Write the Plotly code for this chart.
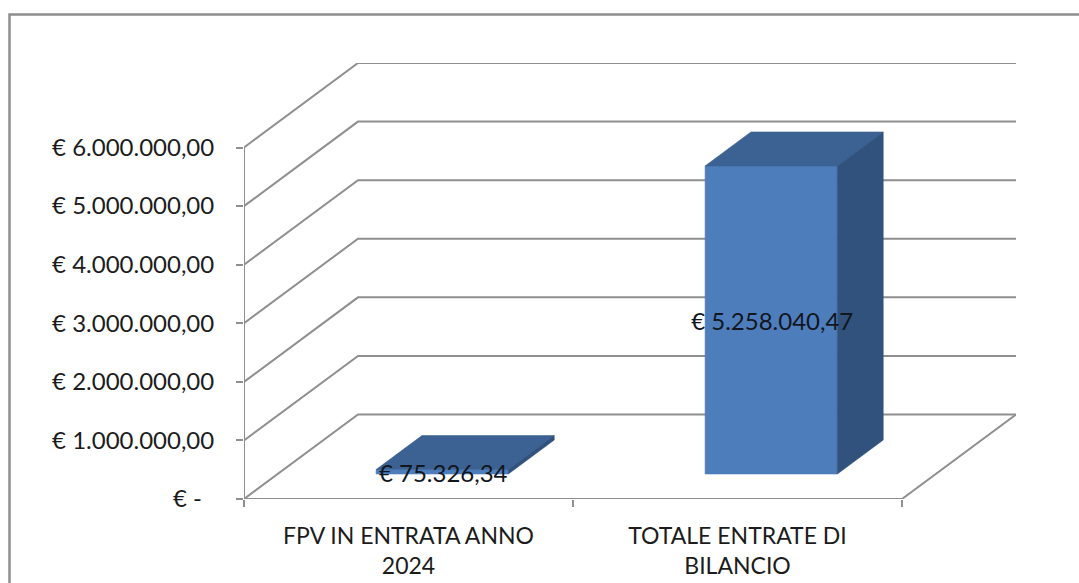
import plotly.graph_objects as go

# ---- data ----
categories = ["FPV IN ENTRATA ANNO<br>2024", "TOTALE ENTRATE DI<br>BILANCIO"]
values = [75326.34, 5258040.47]
value_labels = ["€ 75.326,34", "€ 5.258.040,47"]
y_ticks = [0, 1000000, 2000000, 3000000, 4000000, 5000000, 6000000]
y_tick_labels = ["€ -\u00a0\u00a0", "€ 1.000.000,00", "€ 2.000.000,00", "€ 3.000.000,00",
                 "€ 4.000.000,00", "€ 5.000.000,00", "€ 6.000.000,00"]

# ---- oblique projection of the 3D box onto the 2D axes ----
W, H = 1079, 583
LEFT, RIGHT_PX, FLOOR, TOP_PX = 244, 1016, 499, 63
UNIT_X = 329.0                        # px per category
UNIT_Y = (499 - 147.5) / 6000000      # px per euro
DEPTH_X = 114 / UNIT_X                # wall depth in category units
DEPTH_Y = 84.5 / UNIT_Y               # wall depth in euros
X_MAX = 2 + DEPTH_X
Y_MAX = 6000000 + DEPTH_Y
BAR_W = 0.402
BAR_D0, BAR_D1 = 0.296, 0.698
LABEL_NUDGE = -4 / UNIT_Y             # text baseline correction
GRID = "#8f8f8f"
INK = "#1c1c1c"
FRONT, TOP, SIDE = "#4d7ebb", "#3b6292", "#30527c"


def proj(x, v, d):
    return x + d * DEPTH_X, v + d * DEPTH_Y


def line(points, width=2, color=GRID):
    xs, ys = zip(*[proj(*p) for p in points])
    return go.Scatter(x=xs, y=ys, mode="lines", line=dict(color=color, width=width),
                      hoverinfo="skip", showlegend=False, cliponaxis=False)


def face(points, color):
    xs, ys = zip(*[proj(*p) for p in points])
    return go.Scatter(x=xs + xs[:1], y=ys + ys[:1], mode="lines", fill="toself",
                      fillcolor=color, line=dict(color=color, width=0.6),
                      hoverinfo="skip", showlegend=False, cliponaxis=False)


fig = go.Figure()

# walls and floor
for t in y_ticks:
    fig.add_trace(line([(0, t, 0), (0, t, 1), (2, t, 1)]))
fig.add_trace(line([(0, 0, 0), (0, 6000000, 0)]))
fig.add_trace(line([(0, 0, 0), (2, 0, 0), (2, 0, 1)]))

# bars
for i, v in enumerate(values):
    x0, x1 = i + 0.5 - BAR_W / 2, i + 0.5 + BAR_W / 2
    fig.add_trace(face([(x0, 0, BAR_D0), (x1, 0, BAR_D0), (x1, v, BAR_D0), (x0, v, BAR_D0)], FRONT))
    fig.add_trace(face([(x0, v, BAR_D0), (x1, v, BAR_D0), (x1, v, BAR_D1), (x0, v, BAR_D1)], TOP))
    fig.add_trace(face([(x1, 0, BAR_D0), (x1, 0, BAR_D1), (x1, v, BAR_D1), (x1, v, BAR_D0)], SIDE))

# data labels
lx, ly = zip(*[proj(i + 0.503, v / 2 + LABEL_NUDGE, BAR_D0) for i, v in enumerate(values)])
fig.add_trace(go.Scatter(x=lx, y=ly, mode="text", text=value_labels, textposition="middle center",
                         textfont=dict(family="Lato", size=24, color="#12161e"),
                         hoverinfo="skip", showlegend=False, cliponaxis=False))

fig.update_layout(
    width=W, height=H, autosize=False,
    paper_bgcolor="white", plot_bgcolor="white", showlegend=False,
    margin=dict(l=LEFT, r=W - RIGHT_PX, t=TOP_PX, b=H - FLOOR, pad=0),
    font=dict(family="Lato", size=24, color=INK),
    shapes=[dict(type="rect", xref="paper", yref="paper", layer="below",
                 x0=(9.5 - LEFT) / (RIGHT_PX - LEFT), x1=(1100 - LEFT) / (RIGHT_PX - LEFT),
                 y0=(FLOOR - 620) / (FLOOR - TOP_PX), y1=(FLOOR - 14.5) / (FLOOR - TOP_PX),
                 line=dict(color=GRID, width=2.5), fillcolor="white")],
)
fig.update_xaxes(
    automargin=False,
    range=[0, X_MAX], showgrid=False, zeroline=False, showline=False,
    tickmode="array", tickvals=[0.5, 1.5], ticktext=categories, ticks="", ticklen=0,
    tickfont=dict(family="Lato", size=23, color=INK), ticklabelstandoff=21,
    minor=dict(tickmode="array", tickvals=[0, 1, 2], ticks="outside", ticklen=7, tickwidth=2,
               tickcolor=GRID, showgrid=False),
)
fig.update_yaxes(
    automargin=False,
    range=[0, Y_MAX], showgrid=False, zeroline=False, showline=False,
    tickmode="array", tickvals=y_ticks, ticktext=y_tick_labels, ticks="outside", ticklen=7,
    tickwidth=2, tickcolor=GRID, ticklabelstandoff=17,
    tickfont=dict(family="Lato", size=24, color=INK),
)
fig.write_html("out.html", config={"displayModeBar": False},
               post_script="document.body.style.margin='0';document.body.style.overflow='hidden';")
